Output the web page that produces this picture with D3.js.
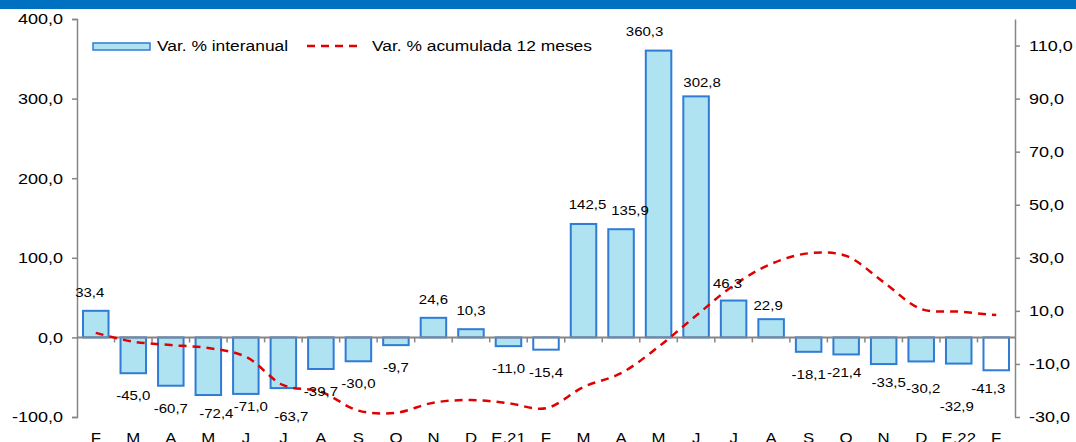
<!DOCTYPE html>
<html>
<head>
<meta charset="utf-8">
<script src="https://cdn.jsdelivr.net/npm/d3@7"></script>
<style>
  html, body { margin: 0; padding: 0; background: #fff; }
  svg { display: block; font-family: "Liberation Sans", Arial, sans-serif; }
</style>
</head>
<body>
<svg width="1076" height="442"></svg>
<script>
// months along the axis
const months = ['F', 'M', 'A', 'M', 'J', 'J', 'A', 'S', 'O', 'N', 'D', 'E.21', 'F',
                'M', 'A', 'M', 'J', 'J', 'A', 'S', 'O', 'N', 'D', 'E.22', 'F'];
// Var. % interanual (bars, left axis)
const interanual = [33.4, -45.0, -60.7, -72.4, -71.0, -63.7, -39.7, -30.0, -9.7, 24.6, 10.3, -11.0, -15.4,
                    142.5, 135.9, 360.3, 302.8, 46.3, 22.9, -18.1, -21.4, -33.5, -30.2, -32.9, -41.3];
// Var. % acumulada 12 meses (dashed line, right axis)
const acumulada = [1.7, -1.6, -2.9, -4.0, -7.3, -18.0, -20.5, -27.6, -28.4, -24.6, -23.6, -24.8, -26.7,
                   -18.7, -13.5, -3.5, 8.2, 19.6, 27.7, 31.7, 30.7, 20.8, 10.7, 9.7, 8.4];
// bars drawn without fill
const hollow = [12, 24];
const leftTicks = [-100, 0, 100, 200, 300, 400];
const rightTicks = [-30, -10, 10, 30, 50, 70, 90, 110];
const seriesNames = ['Var. % interanual', 'Var. % acumulada 12 meses'];

// small manual nudges of data labels, as placed in the original
const labelNudge = {0: [-6, 0], 3: [8, -4], 4: [5, -10], 5: [8, 6], 13: [4, -1], 14: [9, 0],
                    15: [-14, -1], 16: [6, 5], 17: [-6, 1], 18: [-3, 5], 20: [-2, -4], 21: [5, -4],
                    22: [2, 5], 23: [-2, 20], 24: [-8, -4]};

const STRETCH = 1.2; // text in the original is widened horizontally
const BLUE = '#2F7BD6', FILL = '#AFE3F2', GREY = '#868686', RED = '#E00000';

const $svg = d3.select('svg');
const locale = d3.formatLocale({decimal: ',', thousands: '.', grouping: [3], currency: ['', ''], minus: '-'});
const fmt = locale.format('.1f');

// header strip
$svg.append('rect').attr('x', 0).attr('y', 0).attr('width', 1076).attr('height', 9).attr('fill', '#0070C0');

const x = d3.scaleBand().domain(d3.range(months.length)).range([77, 1015]).paddingInner(0.32).paddingOuter(0.16);
const yL = d3.scaleLinear().domain([-100, 400]).range([417, 19]);
const yR = d3.scaleLinear().domain([-30, 120]).range([417, 19]);
const cx = (i) => x(i) + x.bandwidth() / 2;

function label($g, px, py, txt, size, anchor) {
    return $g.append('text')
        .attr('transform', `translate(${px},${py}) scale(${STRETCH},1)`)
        .attr('text-anchor', anchor || 'middle')
        .attr('font-size', size)
        .attr('fill', '#000')
        .text(txt);
}

// bars
$svg.append('g').selectAll('rect').data(interanual).join('rect')
    .attr('x', (d, i) => x(i))
    .attr('width', x.bandwidth())
    .attr('y', (d) => yL(Math.max(0, d)))
    .attr('height', (d) => Math.abs(yL(d) - yL(0)))
    .attr('fill', (d, i) => hollow.includes(i) ? '#fff' : FILL)
    .attr('stroke', BLUE)
    .attr('stroke-width', 2);

// left axis
const axL = $svg.append('g').attr('transform', 'translate(77,0)')
    .call(d3.axisLeft(yL).tickValues(leftTicks).tickFormat(fmt).tickSize(5).tickSizeOuter(5));
axL.select('.domain').attr('stroke', GREY).attr('stroke-width', 1.5);
axL.selectAll('line').attr('stroke', GREY).attr('stroke-width', 1.5);
axL.selectAll('text').attr('x', -14 / STRETCH).attr('transform', `scale(${STRETCH},1)`)
    .attr('font-size', 15).attr('fill', '#000').attr('font-family', null);

// right axis
const axR = $svg.append('g').attr('transform', 'translate(1015,0)')
    .call(d3.axisRight(yR).tickValues(rightTicks).tickFormat(fmt).tickSize(5).tickSizeOuter(0));
axR.select('.domain').attr('stroke', GREY).attr('stroke-width', 1.5);
axR.selectAll('line').attr('stroke', GREY).attr('stroke-width', 1.5);
axR.selectAll('text').attr('x', 14 / STRETCH).attr('transform', `scale(${STRETCH},1)`)
    .attr('font-size', 15).attr('fill', '#000').attr('font-family', null);

// zero line with category ticks
const y0 = yL(0);
$svg.append('line').attr('x1', 77).attr('x2', 1015).attr('y1', y0).attr('y2', y0)
    .attr('stroke', GREY).attr('stroke-width', 2);
$svg.append('g').selectAll('line').data(d3.range(1, months.length)).join('line')
    .attr('x1', (i) => x(i) - x.step() * x.paddingInner() / 2)
    .attr('x2', (i) => x(i) - x.step() * x.paddingInner() / 2)
    .attr('y1', y0).attr('y2', y0 + 5)
    .attr('stroke', GREY).attr('stroke-width', 1.5);

// dashed 12-month line
const line = d3.line()
    .curve(d3.curveCatmullRom.alpha(0.5))
    .x((d, i) => cx(i))
    .y((d) => yR(d));
$svg.append('path').datum(acumulada)
    .attr('d', line)
    .attr('fill', 'none')
    .attr('stroke', RED)
    .attr('stroke-width', 2.5)
    .attr('stroke-dasharray', '8,6');

// data labels
const $labels = $svg.append('g');
interanual.forEach((d, i) => {
    const n = labelNudge[i] || [0, 0];
    const py = d >= 0 ? yL(d) - 14 : yL(d) + 27;
    label($labels, cx(i) + n[0], py + n[1], fmt(d), 12.5);
});

// month labels
const $months = $svg.append('g');
months.forEach((m, i) => label($months, cx(i), 443, m, 14));

// legend
const $leg = $svg.append('g');
$leg.append('rect').attr('x', 93).attr('y', 43).attr('width', 57).attr('height', 7)
    .attr('fill', FILL).attr('stroke', BLUE).attr('stroke-width', 1.5);
label($leg, 157, 51, seriesNames[0], 14.5, 'start');
$leg.append('line').attr('x1', 307).attr('x2', 357).attr('y1', 46).attr('y2', 46)
    .attr('stroke', RED).attr('stroke-width', 2.5).attr('stroke-dasharray', '8,6');
label($leg, 372, 51, seriesNames[1], 14.5, 'start');
</script>
</body>
</html>
